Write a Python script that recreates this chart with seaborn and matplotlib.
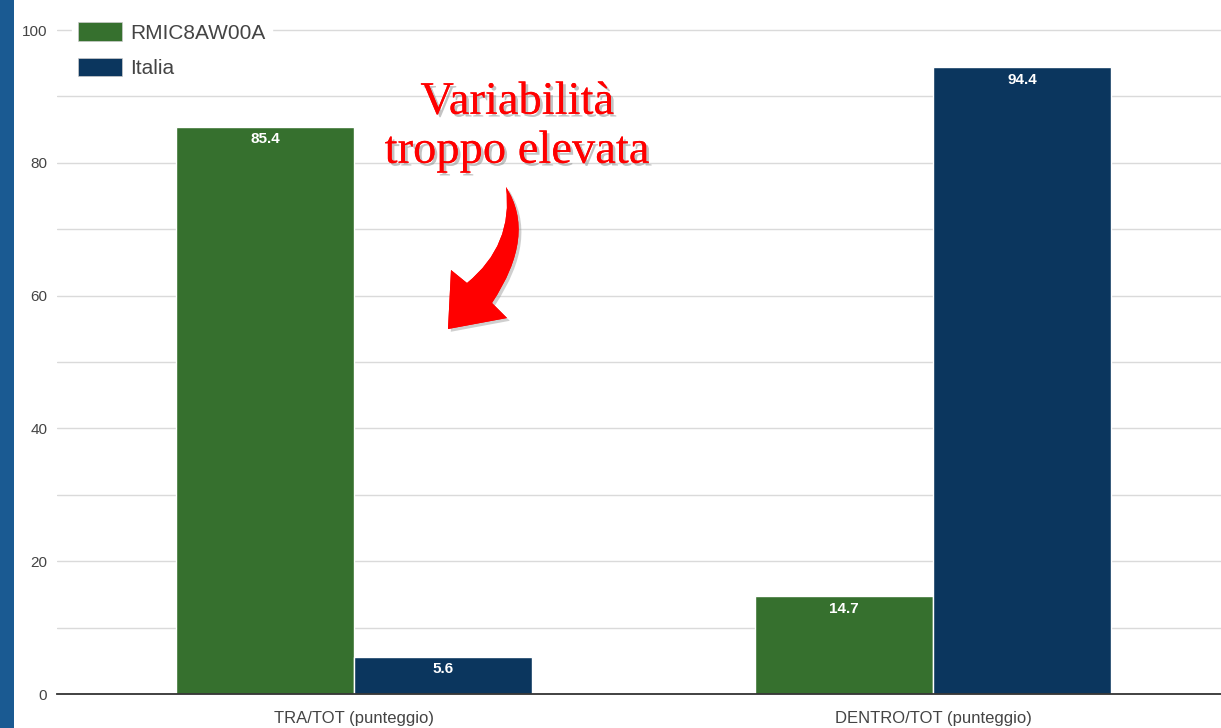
import matplotlib
matplotlib.use("Agg")
import matplotlib.pyplot as plt
import matplotlib.patheffects as pe
from matplotlib.patches import Rectangle, Patch, PathPatch
from matplotlib.path import Path
import seaborn as sns
import pandas as pd

categories = ["TRA/TOT (punteggio)", "DENTRO/TOT (punteggio)"]
series_names = ["RMIC8AW00A", "Italia"]
school_values = [85.4, 14.7]
italy_values = [5.6, 94.4]
y_ticks = [0, 20, 40, 60, 80, 100]
annotation_text = "Variabilità\ntroppo elevata"

colors = {"RMIC8AW00A": "#36702e", "Italia": "#0b365e"}

df = pd.DataFrame({
    "categoria": categories * 2,
    "serie": [series_names[0]] * 2 + [series_names[1]] * 2,
    "valore": school_values + italy_values,
})

sns.set_theme(style="white")
plt.rcParams["font.family"] = ["Liberation Sans", "DejaVu Sans"]

W, H = 1221, 728
fig = plt.figure(figsize=(W / 100, H / 100), dpi=100)
fig.patch.set_facecolor("white")

ax_left, ax_bottom, ax_right, ax_top = 57, 694, 1221, 4
ax = fig.add_axes([ax_left / W, (H - ax_bottom) / H,
                   (ax_right - ax_left) / W, (ax_bottom - ax_top) / H])

sns.barplot(data=df, x="categoria", y="valore", hue="serie", order=categories,
            hue_order=series_names, palette=colors, width=0.615, saturation=1,
            edgecolor="white", linewidth=1, ax=ax, legend=False, zorder=3)

ax.set_xlim(-0.513, 1.497)
ax.set_ylim(0, 100 * (ax_bottom - ax_top) / (694 - 30))
ax.set_yticks(y_ticks)
ax.set_yticks(range(10, 101, 20), minor=True)
ax.grid(True, which="both", axis="y", color="#dadada", linewidth=1, zorder=0)
ax.grid(False, axis="x")
ax.set_xlabel("")
ax.set_ylabel("")
for s in ["top", "right", "left"]:
    ax.spines[s].set_visible(False)
ax.spines["bottom"].set_color("#333333")
ax.spines["bottom"].set_linewidth(1.3)
ax.spines["bottom"].set_zorder(4)
ax.tick_params(axis="both", which="both", length=0, colors="#444444")
ax.tick_params(axis="y", pad=7, labelsize=11)
ax.tick_params(axis="x", pad=12, labelsize=12)

for cont in ax.containers:
    ax.bar_label(cont, fmt="%.1f", padding=-14, color="white", fontsize=11,
                 fontweight="bold")

handles = [Patch(facecolor=colors[n], edgecolor="#cccccc", linewidth=0.5) for n in series_names]
leg = ax.legend(handles, series_names, loc="upper left",
                bbox_to_anchor=((72 - ax_left) / (ax_right - ax_left), 1 - (16 - ax_top) / (ax_bottom - ax_top)),
                frameon=True, fontsize=15, handlelength=2.1, handleheight=1.0,
                labelspacing=0.72, handletextpad=0.4, borderpad=0.3,
                borderaxespad=0)
leg.get_frame().set_facecolor("white")
leg.get_frame().set_edgecolor("white")
leg.get_frame().set_alpha(1)
for t in leg.get_texts():
    t.set_color("#444444")
leg.set_zorder(5)

# left blue strip
fig.patches.append(Rectangle((0, 0), 14 / W, 1, transform=fig.transFigure,
                             facecolor="#1a5a92", edgecolor="none", zorder=10))

# annotation
def px(x, y):
    return (x / W, 1 - y / H)

fig.text(*px(517, 127), annotation_text, ha="center", va="center",
         family=["Liberation Serif", "DejaVu Serif"], fontsize=33.5, color="#ff0000",
         linespacing=1.2,
         path_effects=[pe.withSimplePatchShadow(offset=(2, -2), shadow_rgbFace="#888888", alpha=0.5),
                       pe.Normal()])

# curved block arrow (tapered tail)
arrow_pts = [(506, 187), (537, 235), (492, 303), (507, 318), (448, 329),
             (451, 270), (467, 283), (513.5, 245), (506, 187), (506, 187)]
arrow_codes = [Path.MOVETO, Path.CURVE3, Path.CURVE3, Path.LINETO, Path.LINETO,
               Path.LINETO, Path.LINETO, Path.CURVE3, Path.CURVE3, Path.CLOSEPOLY]
arrow_path = Path([px(x, y) for x, y in arrow_pts], arrow_codes)
arrow = PathPatch(arrow_path, transform=fig.transFigure, facecolor="#ff0000",
                  edgecolor="none", zorder=6,
                  path_effects=[pe.withSimplePatchShadow(offset=(2, -2), shadow_rgbFace="#888888", alpha=0.4),
                                pe.Normal()])
fig.patches.append(arrow)

fig.savefig("out.png", dpi=100)
